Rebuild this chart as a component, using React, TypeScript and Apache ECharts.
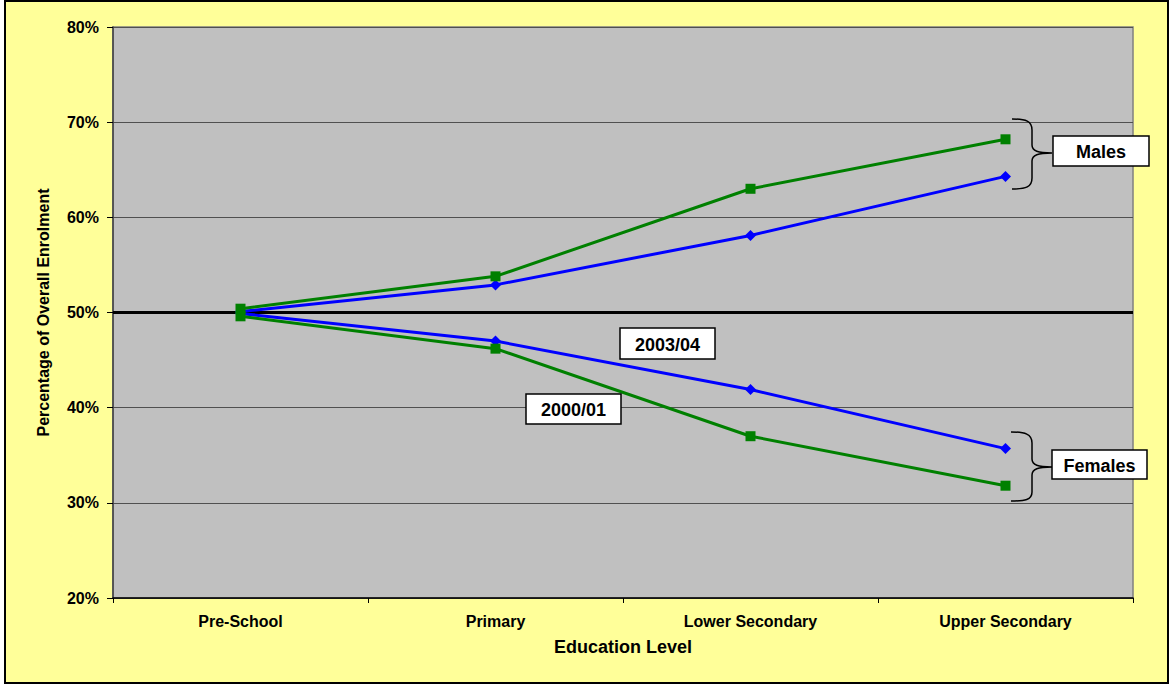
import React, { useEffect, useRef } from "react";
import * as echarts from "echarts";

const categories = ["Pre-School", "Primary", "Lower Secondary", "Upper Secondary"];
const males2003 = [50.1, 52.9, 58.1, 64.3];
const females2003 = [49.9, 47.0, 41.9, 35.7];
const males2000 = [50.4, 53.8, 63.0, 68.2];
const females2000 = [49.6, 46.2, 37.0, 31.8];
const yMin = 20;
const yMax = 80;
const yStep = 10;

const FONT = "'Liberation Sans', Arial, sans-serif";

echarts.graphic.registerShape(
  "braceMales",
  echarts.graphic.extendPath(
    "M1012,119 C1026,119 1032,121 1032,130 L1032,145 C1032,151 1038,153 1052,153 C1038,153 1032,155 1032,161 L1032,178 C1032,187 1026,189 1012,189",
    {}
  )
);
echarts.graphic.registerShape(
  "braceFemales",
  echarts.graphic.extendPath(
    "M1011,432 C1025,432 1032,434 1032,443 L1032,459 C1032,465 1038,467 1052,467 C1038,467 1032,469 1032,475 L1032,492 C1032,500 1025,501 1011,501",
    {}
  )
);

function box(cx: number, cy: number, w: number, h: number, label: string) {
  return {
    type: "group",
    z: 100,
    children: [
      {
        type: "rect",
        z: 100,
        shape: { x: cx - w / 2, y: cy - h / 2, width: w, height: h },
        style: { fill: "#ffffff", stroke: "#000000", lineWidth: 1.5 },
      },
      {
        type: "text",
        z: 101,
        x: cx,
        y: cy + 1,
        style: {
          text: label,
          fill: "#000000",
          font: `bold 18px ${FONT}`,
          textAlign: "center",
          textVerticalAlign: "middle",
        },
      },
    ],
  };
}

export default function App() {
  const ref = useRef<HTMLDivElement>(null);
  useEffect(() => {
    document.body.style.margin = "0";
    if (!ref.current) return;
    const chart = echarts.init(ref.current, undefined, { renderer: "svg" });
    const lineCommon = {
      type: "line",
      lineStyle: { width: 3 },
      z: 3,
    };
    chart.setOption({
      animation: false,
      backgroundColor: "transparent",
      grid: {
        left: 113,
        right: 37,
        top: 27,
        bottom: 92,
        show: true,
        backgroundColor: "#C0C0C0",
        borderColor: "#808080",
        borderWidth: 1.5,
      },
      xAxis: {
        type: "category",
        data: categories,
        boundaryGap: true,
        name: "Education Level",
        nameLocation: "middle",
        nameGap: 40,
        nameTextStyle: { fontFamily: FONT, fontWeight: "bold", fontSize: 18, color: "#000" },
        axisLine: { show: true, lineStyle: { color: "#000", width: 1.5 } },
        axisTick: { show: true, length: 5, alignWithLabel: false, lineStyle: { color: "#000" } },
        axisLabel: { fontFamily: FONT, fontWeight: "bold", fontSize: 16, color: "#000", margin: 15 },
        splitLine: { show: false },
      },
      yAxis: {
        type: "value",
        min: yMin,
        max: yMax,
        interval: yStep,
        name: "Percentage of Overall Enrolment",
        nameLocation: "middle",
        nameRotate: 90,
        nameGap: 62,
        nameTextStyle: { fontFamily: FONT, fontWeight: "bold", fontSize: 16, color: "#000" },
        axisLine: { show: true, lineStyle: { color: "#404040", width: 1.5 } },
        axisTick: { show: true, length: 6, lineStyle: { color: "#000" } },
        axisLabel: {
          fontFamily: FONT,
          fontWeight: "bold",
          fontSize: 16,
          color: "#000",
          margin: 14,
          formatter: "{value}%",
        },
        splitLine: { show: true, lineStyle: { color: "#505050", width: 1 } },
      },
      series: [
        {
          ...lineCommon,
          name: "Males 2003/04",
          data: males2003,
          color: "#0000FF",
          symbol: "diamond",
          symbolSize: 11,
          markLine: {
            silent: true,
            symbol: "none",
            label: { show: false },
            lineStyle: { color: "#000", width: 3, type: "solid" },
            data: [{ yAxis: 50 }],
            z: 2,
          },
        },
        {
          ...lineCommon,
          name: "Females 2003/04",
          data: females2003,
          color: "#0000FF",
          symbol: "diamond",
          symbolSize: 11,
        },
        {
          ...lineCommon,
          name: "Males 2000/01",
          data: males2000,
          color: "#008000",
          symbol: "rect",
          symbolSize: 10,
        },
        {
          ...lineCommon,
          name: "Females 2000/01",
          data: females2000,
          color: "#008000",
          symbol: "rect",
          symbolSize: 10,
        },
      ],
      graphic: [
        {
          type: "braceMales",
          z: 100,
          x: 0,
          y: 0,
          style: { fill: "none", stroke: "#000", lineWidth: 1.5 },
        },
        {
          type: "braceFemales",
          z: 100,
          x: 0,
          y: 0,
          style: { fill: "none", stroke: "#000", lineWidth: 1.5 },
        },
        box(667.5, 343.5, 95, 31, "2003/04"),
        box(573.5, 409, 95, 30, "2000/01"),
        box(1101, 151, 96, 30, "Males"),
        box(1099.5, 464.5, 95, 29, "Females"),
      ],
    });
    return () => chart.dispose();
  }, []);
  return (
    <div style={{ position: "relative", width: 1170, height: 690, background: "#fff" }}>
      <div
        style={{
          position: "absolute",
          left: 4,
          top: 0,
          width: 1165,
          height: 684,
          background: "#FFFF99",
          border: "2px solid #000",
          boxSizing: "border-box",
        }}
      />
      <div ref={ref} style={{ position: "absolute", left: 0, top: 0, width: 1170, height: 690 }} />
    </div>
  );
}
